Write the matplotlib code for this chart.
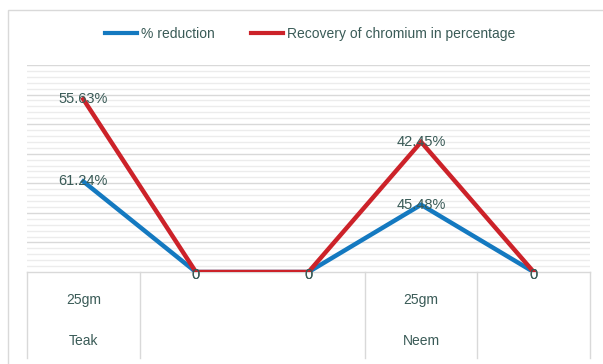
import matplotlib
matplotlib.use("Agg")
import matplotlib.pyplot as plt
from matplotlib.lines import Line2D
from matplotlib.patches import Rectangle
import numpy as np

plt.rcParams['font.family'] = ['Liberation Sans Narrow', 'Liberation Sans', 'DejaVu Sans']

# Category axis: two levels (amount / wood), five slots
level1 = ["25gm", "", "", "25gm", ""]
level2 = ["Teak", "", "", "Neem", ""]

# Series values (fractions, shown as percentages)
reduction = [0.6124, 0.0, 0.0, 0.4548, 0.0]
recovery = [0.5563, 0.0, 0.0, 0.4245, 0.0]

series_names = ["% reduction", "Recovery of chromium in percentage"]

blue = "#1479c0"
red = "#cc2229"
text_col = "#3a5b57"

W, H = 603, 364
fig = plt.figure(figsize=(W / 100, H / 100), dpi=100)

# outer chart frame (runs past the right and bottom edges)
fig.patches.append(Rectangle((8 / W, -5 / H), (W + 5 - 8) / W, (H - 10 + 5) / H,
                             transform=fig.transFigure, fill=False,
                             edgecolor="#d9d9d9", linewidth=1.0))

left, right, top, base = 27, 590, 65, 272
ax = fig.add_axes([left / W, (H - base) / H, (right - left) / W, (base - top) / H])

x = np.arange(len(level1))
red_stack = np.array(reduction) + np.array(recovery)

ax.set_xlim(-0.5, len(level1) - 0.5)
ax.set_ylim(0, 1.4)

# gridlines
for v in np.arange(0.04, 1.4 + 1e-9, 0.04):
    major = abs(v / 0.2 - round(v / 0.2)) < 1e-6
    ax.axhline(v, color="#d9d9d9" if major else "#ececec",
               linewidth=1.0, zorder=0)

ax.plot(x, reduction, color=blue, linewidth=3.2, solid_joinstyle="miter", zorder=3)
ax.plot(x, red_stack, color=red, linewidth=3.2, solid_joinstyle="miter", zorder=4)


def fmt(v):
    return "0" if v == 0 else f"{v * 100:.2f}%"


def label(xi, y, v):
    dy = -3 if v == 0 else 0
    ax.annotate(fmt(v), (xi, y), xytext=(0, dy), textcoords="offset pixels",
                ha="center", va="center", fontsize=10.5, color=text_col,
                zorder=6, annotation_clip=False)


for xi, v in zip(x, reduction):
    label(xi, v, v)
for xi, v, s in zip(x, recovery, red_stack):
    label(xi, s, v)

for sp in ax.spines.values():
    sp.set_visible(False)
ax.set_xticks([])
ax.set_yticks([])

# category table below the axis
tr = ax.get_xaxis_transform()
depth = -(358 - base) / (base - top)
ax.plot([-0.5, len(level1) - 0.5], [0, 0], transform=tr, color="#d9d9d9",
        linewidth=1.0, clip_on=False, zorder=1)
for b in [-0.5, 0.5, 2.5, 3.5, len(level1) - 0.5]:
    ax.plot([b, b], [0, depth], transform=tr, color="#d9d9d9",
            linewidth=1.0, clip_on=False, zorder=1)
for xi, a, b in zip(x, level1, level2):
    ax.text(xi, -(300 - base) / (base - top), a, transform=tr, ha="center",
            va="center", fontsize=10, color=text_col)
    ax.text(xi, -(341 - base) / (base - top), b, transform=tr, ha="center",
            va="center", fontsize=10, color=text_col)

handles = [Line2D([], [], color=blue, linewidth=3),
           Line2D([], [], color=red, linewidth=3)]
fig.legend(handles, series_names, loc="center", bbox_to_anchor=(310 / W, 1 - 34 / H),
           ncol=2, frameon=False, fontsize=10, handlelength=2.3,
           handletextpad=0.3, columnspacing=2.6, labelcolor=text_col)

fig.savefig("out.png", dpi=100)
